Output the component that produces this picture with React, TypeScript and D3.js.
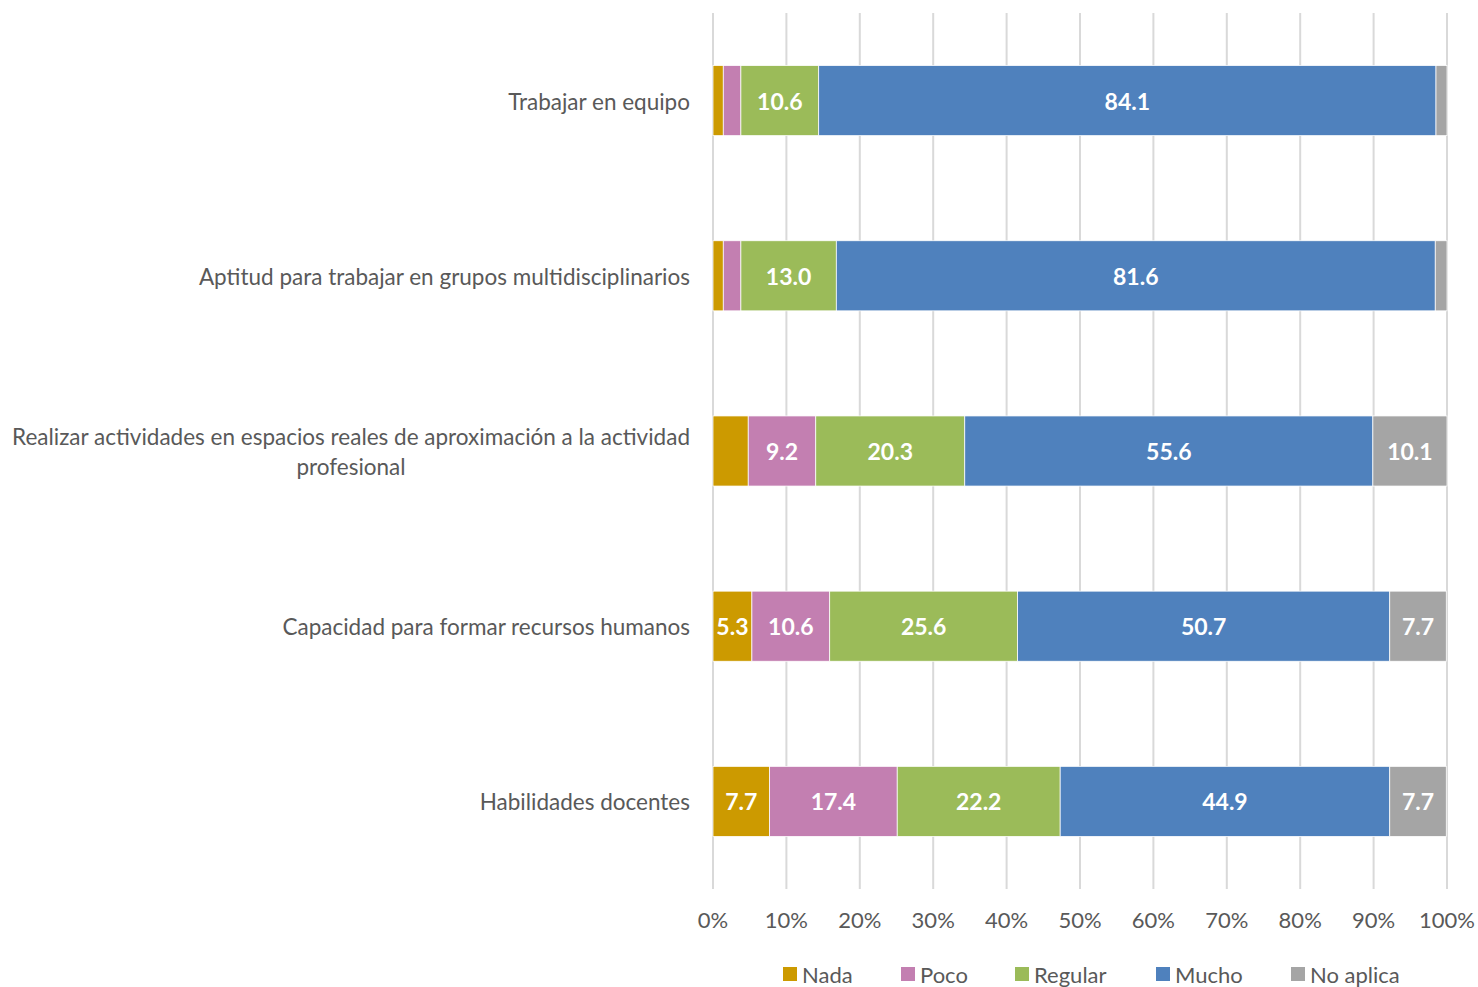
import { useEffect, useRef } from "react";
import * as d3 from "d3";

const categories = [
  ["Trabajar en equipo"],
  ["Aptitud para trabajar en grupos multidisciplinarios"],
  ["Realizar actividades en espacios reales de aproximación a la actividad", "profesional"],
  ["Capacidad para formar recursos humanos"],
  ["Habilidades docentes"],
];
const series = ["Nada", "Poco", "Regular", "Mucho", "No aplica"];
const colors = ["#CC9A00", "#C37FB1", "#9BBB59", "#4F81BD", "#A5A5A5"];
const nada = [1.4, 1.4, 4.8, 5.3, 7.7];
const poco = [2.4, 2.4, 9.2, 10.6, 17.4];
const regular = [10.6, 13.0, 20.3, 25.6, 22.2];
const mucho = [84.1, 81.6, 55.6, 50.7, 44.9];
const noAplica = [1.5, 1.6, 10.1, 7.7, 7.7];
const xTicks = [0, 10, 20, 30, 40, 50, 60, 70, 80, 90, 100];

const W = 1478;
const H = 987;
const FONT = "Lato, 'Open Sans', sans-serif";

export default function App() {
  const ref = useRef<SVGSVGElement>(null);

  useEffect(() => {
    const svg = d3.select(ref.current);
    svg.selectAll("*").remove();

    const margin = { top: 13, right: 31, bottom: 98, left: 713 };
    const x = d3.scaleLinear().domain([0, 100]).range([margin.left, W - margin.right]);
    const y = d3
      .scaleBand<number>()
      .domain(d3.range(categories.length))
      .range([margin.top, H - margin.bottom])
      .paddingInner(0.6)
      .paddingOuter(0.3);

    // grid
    svg
      .append("g")
      .selectAll("line")
      .data(xTicks)
      .join("line")
      .attr("x1", (d) => x(d))
      .attr("x2", (d) => x(d))
      .attr("y1", margin.top)
      .attr("y2", H - margin.bottom)
      .attr("stroke", "#D9D9D9")
      .attr("stroke-width", 2);

    const table = categories.map((_, i) => [nada[i], poco[i], regular[i], mucho[i], noAplica[i]]);
    const stack = d3.stack<number[]>().keys(series.map((_, k) => String(k))).value((d, k) => d[+k]);
    const layers = stack(table);

    layers.forEach((layer, k) => {
      const g = svg.append("g");
      g.selectAll("rect")
        .data(layer)
        .join("rect")
        .attr("x", (d) => x(d[0]))
        .attr("width", (d) => x(d[1]) - x(d[0]))
        .attr("y", (_, i) => y(i)!)
        .attr("height", y.bandwidth())
        .attr("fill", colors[k])
        .attr("stroke", "#fff")
        .attr("stroke-width", 0.75);
      g.selectAll("text")
        .data(layer.filter((d) => d[1] - d[0] >= 5))
        .join("text")
        .attr("x", (d) => (x(d[0]) + x(d[1])) / 2)
        .attr("y", (d) => y(table.indexOf(d.data))! + y.bandwidth() / 2)
        .attr("text-anchor", "middle")
        .attr("dominant-baseline", "central")
        .attr("fill", "#fff")
        .attr("font-weight", "bold")
        .attr("font-size", 23)
        .attr("font-family", FONT)
        .text((d) => (d[1] - d[0]).toFixed(1));
    });

    // category labels
    categories.forEach((lines, i) => {
      const cy = y(i)! + y.bandwidth() / 2;
      const t = svg
        .append("text")
        .attr("font-family", FONT)
        .attr("font-size", 22.5)
        .attr("fill", "#595959")
        .attr("dominant-baseline", "central");
      const spans = lines.map((line, j) =>
        t
          .append("tspan")
          .attr("x", 690)
          .attr("y", cy + (j - (lines.length - 1) / 2) * 30)
          .text(line)
      );
      if (lines.length > 1) {
        const w = d3.max(spans, (s) => (s.node() as SVGTSpanElement).getComputedTextLength()) ?? 0;
        t.attr("text-anchor", "middle");
        spans.forEach((s) => s.attr("x", 690 - w / 2));
      } else {
        t.attr("text-anchor", "end");
      }
    });

    // x axis labels
    svg
      .append("g")
      .selectAll("text")
      .data(xTicks)
      .join("text")
      .attr("x", (d) => x(d))
      .attr("y", 919)
      .attr("text-anchor", "middle")
      .attr("dominant-baseline", "central")
      .attr("font-family", FONT)
      .attr("font-size", 22)
      .attr("fill", "#595959")
      .text((d) => `${d}%`);

    // legend
    const legendX = [783, 901, 1015, 1156, 1291];
    const lg = svg.append("g");
    series.forEach((s, k) => {
      lg.append("rect")
        .attr("x", legendX[k])
        .attr("y", 967)
        .attr("width", 14)
        .attr("height", 14)
        .attr("fill", colors[k]);
      lg.append("text")
        .attr("x", legendX[k] + 19)
        .attr("y", 974)
        .attr("dominant-baseline", "central")
        .attr("font-family", FONT)
        .attr("font-size", 22)
        .attr("fill", "#595959")
        .text(s);
    });
  }, []);

  return (
    <svg
      ref={ref}
      width={W}
      height={H}
      style={{ position: "absolute", left: 0, top: 0, background: "#fff" }}
    />
  );
}
